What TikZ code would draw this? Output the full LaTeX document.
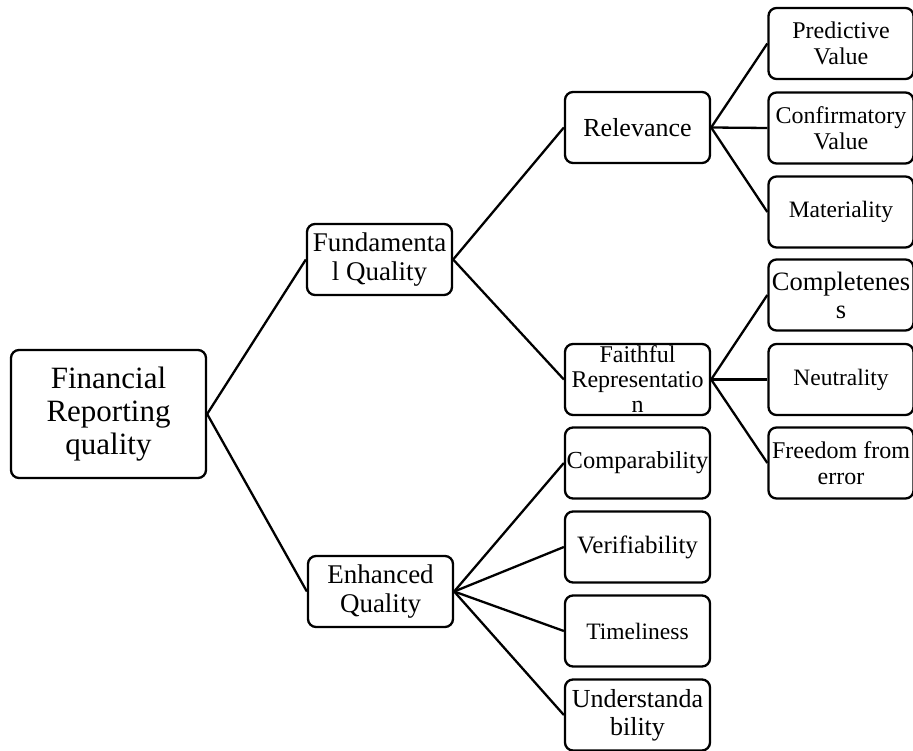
\documentclass[tikz,border=0pt]{standalone}
\usepackage{fontspec}
\setmainfont{Liberation Serif}
\usetikzlibrary{positioning}

\newcommand{\rootfont}{\fontsize{31}{33}\selectfont}
\newcommand{\midfont}{\fontsize{27}{29}\selectfont}
\newcommand{\leaffont}{\fontsize{24}{26}\selectfont}

\begin{document}
\begin{tikzpicture}[x=1pt, y=-1pt, line width=2.3pt,
    qbox/.style={draw, rounded corners=8pt, align=center, inner sep=1pt,
        minimum width=145pt, minimum height=71pt, font=\leaffont},
    rootbox/.style={qbox, minimum width=195pt, minimum height=128pt, font=\rootfont},
    midbox/.style={qbox, font=\midfont}]
    \useasboundingbox (0,0) rectangle (913,751);

    % Root
    \node[rootbox] (frq) at (108.5,414) {Financial\\Reporting\\quality};

    % Second level
    \node[midbox] (fund) at (379.5,259.5) {Fundamenta\\l Quality};
    \node[midbox] (enh) at (380.5,591.5) {Enhanced\\Quality};

    % Third level
    \node[qbox, font=\fontsize{26}{28}\selectfont] (rel) at (637.5,127.5) {Relevance};
    \node[qbox, font=\fontsize{24}{25}\selectfont] (faith) at (637.5,379.5) {Faithful\\Representatio\\n};
    \node[qbox, font=\fontsize{24.5}{27}\selectfont] (comp) at (637.5,463) {Comparability};
    \node[qbox, font=\fontsize{25}{27}\selectfont] (ver) at (637.5,547) {Verifiability};
    \node[qbox, font=\fontsize{23.5}{25}\selectfont] (time) at (637.5,631) {Timeliness};
    \node[qbox, font=\fontsize{26}{28}\selectfont] (und) at (637.5,715) {Understanda\\bility};

    % Leaves
    \node[qbox] (pred) at (841,43.5) {Predictive\\Value};
    \node[qbox] (conf) at (841,128) {Confirmatory\\Value};
    \node[qbox, font=\fontsize{23.5}{25}\selectfont] (mat) at (841,212) {Materiality};
    \node[qbox, font=\fontsize{26.5}{28}\selectfont] (compl) at (841,295) {Completenes\\s};
    \node[qbox, font=\fontsize{23.5}{25}\selectfont] (neut) at (841,379.5) {Neutrality};
    \node[qbox] (free) at (841,463) {Freedom from\\error};

    % Connectors
    \foreach \a/\b in {frq/fund, frq/enh, fund/rel, fund/faith,
        rel/pred, rel/conf, rel/mat, faith/compl, faith/neut, faith/free,
        enh/comp, enh/ver, enh/time, enh/und}
        \draw (\a.east) -- (\b.west);
\end{tikzpicture}
\end{document}
